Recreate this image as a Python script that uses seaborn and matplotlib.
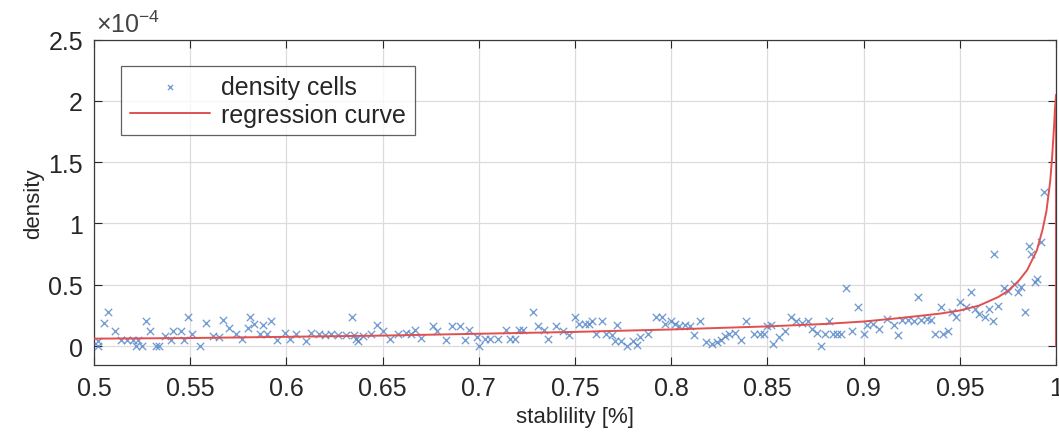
import matplotlib
matplotlib.use("Agg")
import matplotlib.pyplot as plt
from matplotlib.ticker import FuncFormatter
import seaborn as sns

# Measured cells: stability (fraction) and density (in units of 1e-4)
stability = [
    0.502, 0.502, 0.505, 0.507, 0.511, 0.514, 0.517, 0.520, 0.523, 0.522,
    0.525, 0.527, 0.529, 0.532, 0.534, 0.537, 0.540, 0.541, 0.545, 0.547,
    0.549, 0.551, 0.555, 0.558, 0.562, 0.565, 0.567, 0.570, 0.574, 0.577,
    0.580, 0.581, 0.583, 0.586, 0.588, 0.590, 0.592, 0.595, 0.599, 0.602,
    0.605, 0.610, 0.613, 0.617, 0.620, 0.623, 0.627, 0.631, 0.634, 0.635,
    0.636, 0.637, 0.640, 0.644, 0.647, 0.650, 0.654, 0.658, 0.662, 0.665,
    0.667, 0.670, 0.676, 0.678, 0.683, 0.686, 0.690, 0.693, 0.695, 0.699,
    0.700, 0.703, 0.706, 0.710, 0.714, 0.716, 0.719, 0.721, 0.723, 0.728,
    0.731, 0.734, 0.736, 0.740, 0.744, 0.747, 0.750, 0.752, 0.755, 0.757,
    0.759, 0.761, 0.764, 0.766, 0.769, 0.771, 0.772, 0.774, 0.777, 0.780,
    0.782, 0.784, 0.788, 0.792, 0.795, 0.797, 0.800, 0.802, 0.804, 0.807,
    0.810, 0.812, 0.815, 0.818, 0.821, 0.824, 0.826, 0.828, 0.830, 0.833,
    0.836, 0.839, 0.843, 0.846, 0.848, 0.850, 0.852, 0.853, 0.856, 0.859,
    0.862, 0.865, 0.868, 0.871, 0.873, 0.876, 0.878, 0.880, 0.882, 0.884,
    0.886, 0.888, 0.891, 0.894, 0.897, 0.900, 0.902, 0.905, 0.908, 0.912,
    0.916, 0.918, 0.920, 0.923, 0.926, 0.928, 0.930, 0.933, 0.935, 0.937,
    0.940, 0.941, 0.944, 0.946, 0.948, 0.950, 0.953, 0.956, 0.958, 0.960,
    0.963, 0.965, 0.967, 0.968, 0.970, 0.973, 0.975, 0.978, 0.980, 0.982,
    0.984, 0.986, 0.987, 0.989, 0.990, 0.992, 0.994,
]
density = [
    0.04, 0.00, 0.19, 0.28, 0.12, 0.05, 0.05, 0.05, 0.05, 0.00,
    0.00, 0.20, 0.12, 0.00, 0.00, 0.08, 0.05, 0.12, 0.12, 0.05,
    0.24, 0.10, 0.00, 0.19, 0.08, 0.07, 0.21, 0.15, 0.10, 0.06,
    0.15, 0.24, 0.18, 0.10, 0.17, 0.10, 0.20, 0.05, 0.11, 0.06,
    0.10, 0.04, 0.11, 0.10, 0.09, 0.10, 0.09, 0.09, 0.24, 0.09,
    0.06, 0.04, 0.08, 0.10, 0.17, 0.12, 0.06, 0.10, 0.11, 0.10,
    0.13, 0.065, 0.16, 0.12, 0.05, 0.16, 0.16, 0.05, 0.13, 0.07,
    0.00, 0.06, 0.06, 0.06, 0.13, 0.06, 0.06, 0.13, 0.13, 0.28,
    0.16, 0.13, 0.06, 0.16, 0.12, 0.09, 0.24, 0.18, 0.18, 0.18,
    0.20, 0.10, 0.20, 0.10, 0.09, 0.04, 0.17, 0.04, 0.00, 0.04,
    0.01, 0.07, 0.10, 0.24, 0.24, 0.18, 0.20, 0.18, 0.16, 0.17,
    0.16, 0.09, 0.20, 0.03, 0.02, 0.03, 0.05, 0.08, 0.10, 0.11,
    0.05, 0.20, 0.10, 0.10, 0.10, 0.16, 0.17, 0.02, 0.07, 0.12,
    0.24, 0.20, 0.19, 0.20, 0.14, 0.11, 0.00, 0.10, 0.20, 0.10,
    0.10, 0.10, 0.47, 0.12, 0.32, 0.10, 0.17, 0.18, 0.14, 0.22,
    0.17, 0.09, 0.21, 0.21, 0.20, 0.40, 0.21, 0.22, 0.21, 0.10,
    0.32, 0.10, 0.12, 0.28, 0.24, 0.36, 0.32, 0.44, 0.30, 0.26,
    0.24, 0.30, 0.20, 0.75, 0.33, 0.47, 0.45, 0.51, 0.44, 0.48,
    0.28, 0.82, 0.75, 0.52, 0.55, 0.85, 1.26,
]

# Fitted regression curve, sampled at knots (density in units of 1e-4)
curve_x = [0.50, 0.55, 0.60, 0.65, 0.70, 0.75, 0.80, 0.85, 0.88, 0.90,
           0.92, 0.94, 0.95, 0.96, 0.97, 0.975, 0.98, 0.985, 0.99, 0.993,
           0.995, 0.997, 0.998, 0.999, 0.9995, 1.0, 1.0]
curve_y = [0.06, 0.065, 0.075, 0.085, 0.10, 0.115, 0.135, 0.16, 0.18, 0.20,
           0.23, 0.265, 0.29, 0.33, 0.40, 0.45, 0.52, 0.62, 0.78, 0.95,
           1.10, 1.35, 1.55, 1.80, 1.95, 2.05, 0.0]

x_ticks = [0.5, 0.55, 0.6, 0.65, 0.7, 0.75, 0.8, 0.85, 0.9, 0.95, 1.0]
y_ticks = [0, 0.5, 1, 1.5, 2, 2.5]

sns.set_theme(style="white")
plt.rcParams["font.family"] = ["Liberation Sans", "DejaVu Sans"]
plt.rcParams["mathtext.fontset"] = "custom"
plt.rcParams["mathtext.rm"] = "Liberation Sans"
plt.rcParams["mathtext.it"] = "Liberation Sans"
plt.rcParams["mathtext.default"] = "regular"

text_col = "#262626"
fig = plt.figure(figsize=(10.59, 4.39), dpi=100)
ax = fig.add_axes([0.0888, 0.1663, 0.9084, 0.741])

ax.grid(True, color="#dcdcdc", linewidth=0.9)
ax.set_axisbelow(True)

sns.scatterplot(x=stability, y=density, marker="x", color="#5586c8",
                s=28, linewidth=1.0, alpha=0.8, label="density cells", ax=ax,
                zorder=3)
sns.lineplot(x=curve_x, y=curve_y, sort=False, estimator=None,
             color="#e0504f", linewidth=1.4, label="regression curve", ax=ax,
             zorder=4)

ax.set_xlim(0.5, 1.0)
ax.set_ylim(-0.155, 2.5)
ax.set_xticks(x_ticks)
ax.set_yticks(y_ticks)
fmt = FuncFormatter(lambda v, _: f"{v:g}")
ax.xaxis.set_major_formatter(fmt)
ax.yaxis.set_major_formatter(fmt)

ax.tick_params(axis="both", direction="in", length=6, width=0.8,
               labelsize=18, colors=text_col, top=True, right=True,
               bottom=True, left=True)
ax.tick_params(axis="x", pad=8)
ax.tick_params(axis="y", pad=8)
for sp in ax.spines.values():
    sp.set_color("#3a3a3a")
    sp.set_linewidth(0.9)

ax.set_xlabel("stablility [%]", fontsize=16, color=text_col, labelpad=4)
ax.set_ylabel("density", fontsize=16, color=text_col, labelpad=3)

ax.text(0.002, 1.008, r"$\times10^{-4}$", transform=ax.transAxes,
        fontsize=18, color="#444444", ha="left", va="bottom")

leg = ax.legend(loc="upper left", bbox_to_anchor=(0.028, 0.919),
                borderaxespad=0, fontsize=18, frameon=True, fancybox=False,
                handlelength=3.2, handletextpad=0.45, labelspacing=0.15,
                borderpad=0.35, markerscale=0.7)
leg.get_frame().set_edgecolor("#3a3a3a")
leg.get_frame().set_linewidth(0.9)
for t in leg.get_texts():
    t.set_color(text_col)

fig.savefig("out.png", dpi=100)
